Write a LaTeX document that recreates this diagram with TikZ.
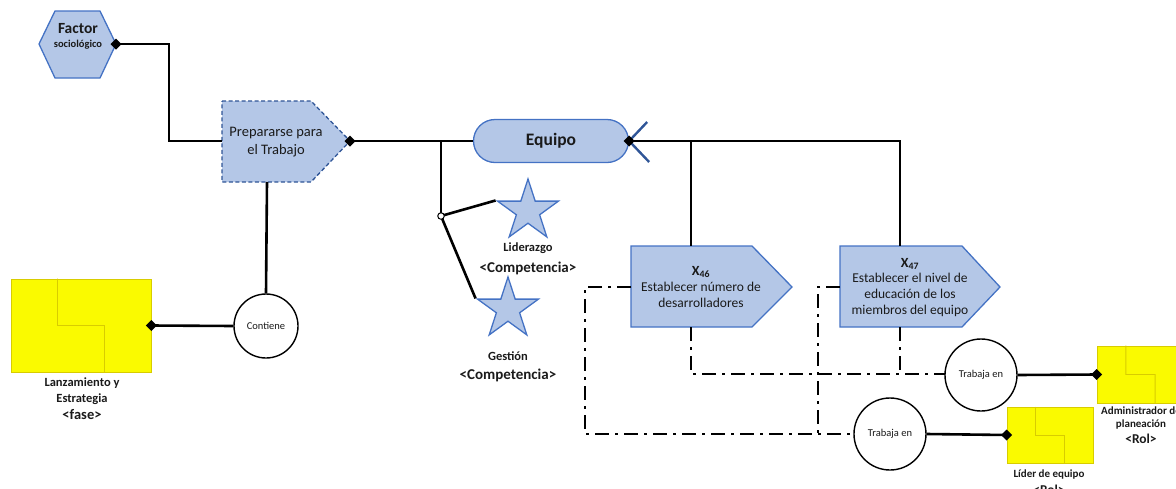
\documentclass[tikz,border=0pt]{standalone}
\usepackage{fontspec}
\setmainfont{Carlito}
\usetikzlibrary{arrows.meta,shapes.geometric,calc}
\definecolor{bfill}{HTML}{B4C7E7}
\definecolor{bdraw}{HTML}{4472C4}
\definecolor{bdark}{HTML}{2F5597}
\definecolor{yfill}{HTML}{FAFA00}
\definecolor{ylinecol}{HTML}{D8CC00}
\definecolor{tcol}{HTML}{1A1A1A}
\newcommand\yinner[1]{\draw[ylinecol,line width=0.9pt] ($(#1.north west)!1/3!(#1.north east)$) -- ($(#1.west)!1/3!(#1.east)$) -- ($(#1.west)!2/3!(#1.east)$) -- ($(#1.south west)!2/3!(#1.south east)$);}
\begin{document}
\begin{tikzpicture}[x=1pt,y=-1pt,
 conn/.style={line width=2.6pt,black},
 dd/.style={line width=2.6pt,black,dash pattern=on 14pt off 6pt on 3pt off 6pt},
 bshape/.style={fill=bfill,draw=bdraw,line width=1.3pt},
 dmstart/.style={{Diamond[length=11pt,width=11pt]}-,shorten <=-5.5pt},
 dmend/.style={-{Diamond[length=11pt,width=11pt]},shorten >=-5.5pt},
 ybox/.style={rectangle,fill=yfill,draw=ylinecol,line width=0.8pt,inner sep=0pt},
 circ/.style={circle,draw=black,line width=1.4pt,fill=white,minimum size=72pt,inner sep=0pt,text=tcol,font=\fontsize{10.5}{12}\selectfont},
 lbl/.style={align=center,inner sep=0pt,text=tcol,font=\bfseries\fontsize{11}{13}\selectfont},
 lblbig/.style={align=center,inner sep=0pt,text=tcol,font=\bfseries\fontsize{15}{17}\selectfont},
 txt/.style={align=center,inner sep=0pt,text=tcol,font=\fontsize{13.5}{16}\selectfont},
 starshape/.style={star,star points=5,star point ratio=2.618,minimum size=64pt,inner sep=0pt,fill=bfill,draw=bdraw,line width=1.3pt}
]
\useasboundingbox (0,0) rectangle (1176,488);

% Factor sociologico
\draw[bshape] (39,44) -- (55,11) -- (100,11) -- (116,44) -- (100,78) -- (55,78) -- cycle;
\coordinate (facR) at (116,44);
\node[inner sep=0pt,text=tcol,font=\bfseries\fontsize{15.5}{17}\selectfont] (fac) at (78,29) {Factor};
\node[inner sep=0pt,text=tcol,font=\bfseries\fontsize{10.5}{12}\selectfont] (facs) at (78,45) {sociológico};

% Prepararse para el Trabajo
\draw[fill=bfill,draw=bdark,line width=1.3pt,dash pattern=on 4pt off 2.5pt] (222,101) -- (311,101) -- (350,141) -- (311,182) -- (222,182) -- cycle;
\coordinate (prepW) at (222,141);
\coordinate (prepE) at (350,141);
\coordinate (prepS) at (267,182);
\node[txt,font=\fontsize{14.5}{18}\selectfont] (prep) at (276,142) {Prepararse para\\el Trabajo};

\draw[conn,dmstart] (facR) -- (169,44) -- (169,141) -- (prepW);

% Equipo
\node[fill=bfill,draw=bdraw,line width=1.3pt,rounded corners=21.5pt,minimum width=155pt,minimum height=43pt,inner sep=0pt,text=tcol,font=\bfseries\fontsize{17.5}{20}\selectfont] (eq) at (551,141) {Equipo};
\draw[conn,dmstart] (prepE) -- (eq.west);

% X46 / X47
\draw[bshape] (631,246) -- (752,246) -- (792,287) -- (752,327) -- (631,327) -- cycle;
\coordinate (x46W) at (631,287);
\coordinate (x46N) at (691,246);
\coordinate (x46S) at (691,327);
\node[txt,font=\bfseries\fontsize{14}{16}\selectfont] (x46h) at (701,272) {X\textsubscript{46}};
\node[txt] (x46t) at (701,295) {Establecer número de\\desarrolladores};

\draw[bshape] (840,246) -- (962,246) -- (1000,287) -- (962,327) -- (840,327) -- cycle;
\coordinate (x47W) at (840,287);
\coordinate (x47N) at (900,246);
\coordinate (x47S) at (900,327);
\node[txt,font=\bfseries\fontsize{14}{16}\selectfont] (x47h) at (910,264) {X\textsubscript{47}};
\node[txt] (x47t) at (910,295) {Establecer el nivel de\\educación de los\\miembros del equipo};

% connectors from Equipo
\draw[line width=2.4pt,bdark] (eq.east) -- ++(18,-19) (eq.east) -- ++(20,21);
\coordinate (eqj) at (691,141);
\draw[conn,dmstart] (eq.east) -- (900,141) -- (x47N);
\draw[conn] (eqj) -- (x46N);

% Competencias
\node[starshape] (lid) at (528,211) {};
\node[starshape] (ges) at (508,309) {};
\node[lbl,font=\bfseries\fontsize{12.5}{14}\selectfont] (lidl) at (528,248) {Liderazgo};
\node[lblbig] (lidc) at (528,268) {<Competencia>};
\node[lbl,font=\bfseries\fontsize{12.5}{14}\selectfont] (gesl) at (508,356) {Gestión};
\node[lblbig] (gesc) at (508,375) {<Competencia>};

\coordinate (br) at (441,141);
\coordinate (bcc) at (441,216);
\draw[conn] (br) -- (bcc);
\draw[conn] (bcc) -- (lid.162);
\draw[conn] (bcc) -- (ges.162);
\node[circle,draw=black,fill=white,minimum size=6.5pt,inner sep=0pt,line width=1pt] (bc) at (bcc) {};

% dash-dot relations
\draw[dd] (x46W) -- (585,287) -- (585,434) -- (854,434);
\draw[dd] (x46S) -- (691,374) -- (945,374);
\draw[dd] (x47W) -- (818,287) -- (818,434);
\draw[dd] (x47S) -- (900,374);

% Contiene / Lanzamiento
\node[circ,minimum size=64pt] (cont) at (266,326) {Contiene};
\draw[conn] (prepS) -- (cont.north);
\node[ybox,minimum width=140pt,minimum height=93pt] (lanz) at (81,325.5) {};
\yinner{lanz}
\draw[conn,dmend] (cont.west) -- (lanz.east);
\node[lbl,font=\bfseries\fontsize{12.5}{14}\selectfont] (lanz1) at (82,383) {Lanzamiento y};
\node[lbl,font=\bfseries\fontsize{12.5}{14}\selectfont] (lanz2) at (82,399) {Estrategia};
\node[lbl,font=\bfseries\fontsize{14.5}{16}\selectfont] (lanz3) at (82,415) {<fase>};

% Trabaja en 1 / Administrador
\node[circ] (tr1) at (981,375) {Trabaja en};
\node[ybox,minimum width=87pt,minimum height=57pt] (adm) at (1140.5,374.5) {};
\yinner{adm}
\draw[conn,dmend] (tr1.east) -- (adm.west);
\node[lbl] (adm1) at (1141,411) {Administrador de};
\node[lbl] (adm2) at (1141,424) {planeación};
\node[lbl,font=\bfseries\fontsize{13.5}{15}\selectfont] (adm3) at (1141,439) {<Rol>};

% Trabaja en 2 / Lider
\node[circ] (tr2) at (890,434) {Trabaja en};
\node[ybox,minimum width=86pt,minimum height=56pt] (lider) at (1050,435) {};
\yinner{lider}
\draw[conn,dmend] (tr2.east) -- (lider.west);
\node[lbl] (lid1) at (1049,474) {Líder de equipo};
\node[lbl,font=\bfseries\fontsize{13.5}{15}\selectfont] (lid2) at (1049,490) {<Rol>};
\end{tikzpicture}
\end{document}
